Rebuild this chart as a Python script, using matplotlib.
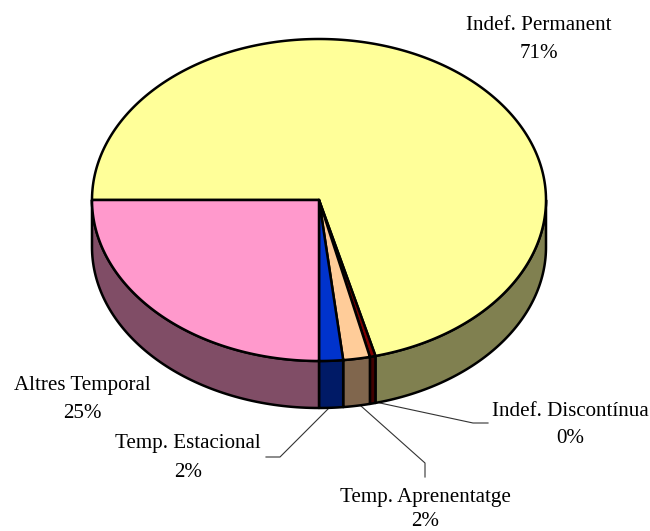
import numpy as np
import matplotlib
matplotlib.use('Agg')
import matplotlib.pyplot as plt

labels = ['Indef. Permanent', 'Indef. Discontínua', 'Temp. Aprenentatge', 'Temp. Estacional', 'Altres Temporal']
shown = ['71%', '0%', '2%', '2%', '25%']
values = [71.0, 0.4, 1.9, 1.7, 25.0]
colors = ['#FFFF99', '#800000', '#FFCC99', '#0033CC', '#FF99CC']
side_colors = ['#808050', '#400000', '#80664D', '#001A66', '#804D66']

# label x centre and the two baselines, in pixels
label_x = [539, 570, 425, 188, 82]
name_y = [30, 416, 502, 448, 390]
pct_y = [58, 443, 526, 477, 418]
leaders = [None,
           [(380, 403), (473, 423), (488, 423)],
           [(361, 406), (425, 463), (425, 477)],
           [(329, 408), (280, 457), (266, 457)],
           None]

cx, cy, rx, ry, depth = 319, 200, 227, 161, 47


def ell(a):
    return cx + rx * np.cos(a), cy - ry * np.sin(a)


fig = plt.figure(figsize=(6.5, 5.31), dpi=100)
ax = fig.add_axes([0, 0, 1, 1])
ax.set_xlim(0, 650)
ax.set_ylim(531, 0)
ax.axis('off')

edges = np.cumsum([0] + values)
start = np.pi - edges / 100 * 2 * np.pi

# side walls, only the front half shows
for i in range(len(values)):
    a0, a1 = start[i], start[i + 1]
    # clip to the lower half of the ellipse
    if i == 0:
        a0 = 0.0
    t = np.linspace(a0, a1, 80)
    x, y = ell(t)
    xs = np.r_[x, x[::-1]]
    ys = np.r_[y, y[::-1] + depth]
    ax.fill(xs, ys, facecolor=side_colors[i], edgecolor='black', lw=1.8, joinstyle='round', zorder=2)

# top face
for i in range(len(values)):
    t = np.linspace(start[i], start[i + 1], 300)
    x, y = ell(t)
    ax.fill(np.r_[cx, x], np.r_[cy, y], facecolor=colors[i], edgecolor='black', lw=1.8, joinstyle='round', zorder=3)

for line in leaders:
    if line:
        ax.plot(*zip(*line), color='#333333', lw=0.8, zorder=1)

for i in range(len(labels)):
    ax.text(label_x[i], name_y[i], labels[i], ha='center', va='baseline', fontsize=15.1,
            family='Liberation Serif', color='black')
    ax.text(label_x[i], pct_y[i], shown[i], ha='center', va='baseline', fontsize=15.1,
            family='Liberation Serif', color='black')

fig.savefig('out.png', dpi=100)
